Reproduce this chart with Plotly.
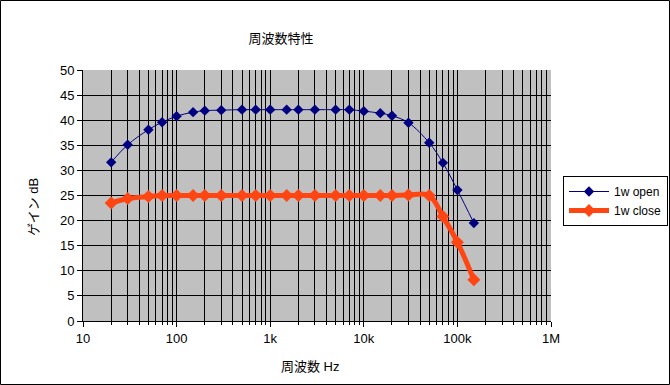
import plotly.graph_objects as go

freqs = [20, 30, 50, 70, 100, 150, 200, 300, 500, 700, 1000, 1500, 2000, 3000,
         5000, 7000, 10000, 15000, 20000, 30000, 50000, 70000, 100000, 150000]
gain_open = [31.6, 35.1, 38.1, 39.6, 40.8, 41.6, 41.9, 42.0, 42.1, 42.1, 42.1, 42.1,
             42.1, 42.1, 42.1, 42.1, 41.8, 41.4, 40.9, 39.5, 35.5, 31.5, 26.1, 19.5]
gain_close = [23.5, 24.4, 24.8, 25.0, 25.0, 25.0, 25.0, 25.0, 25.0, 25.0, 25.0, 25.0,
              25.0, 25.0, 25.0, 25.0, 25.0, 25.0, 25.0, 25.1, 25.0, 20.8, 15.7, 8.2]

x_tickvals = [10, 100, 1000, 10000, 100000, 1000000]
x_ticktext = ["10", "100", "1k", "10k", "100k", "1M"]
x_minor = [m * 10 ** e for e in range(1, 6) for m in range(2, 10)]
y_tickvals = list(range(0, 55, 5))

FONT = "Liberation Sans, Arial, Noto Sans CJK JP, sans-serif"

W, H = 670, 385
L, R, T, B = 83, 119, 70, 64
pw, ph = W - L - R, H - T - B

fig = go.Figure()
fig.add_trace(go.Scatter(
    x=freqs, y=gain_open, name="1w open", mode="lines+markers",
    line=dict(color="#000080", width=1, shape="spline"),
    marker=dict(symbol="diamond", size=8, color="#000080"),
))
fig.add_trace(go.Scatter(
    x=freqs, y=gain_close, name="1w close", mode="lines+markers",
    line=dict(color="#FF4512", width=5, shape="spline"),
    marker=dict(symbol="diamond", size=10, color="#FF4512"),
))

fig.update_layout(
    width=W, height=H,
    margin=dict(l=L, r=R, t=T, b=B, autoexpand=False),
    paper_bgcolor="white", plot_bgcolor="#C0C0C0",
    font=dict(family=FONT, size=12, color="black"),
    title=dict(text="周波数特性", x=281 / W, xanchor="center",
               y=1 - 38 / H, yanchor="middle", font=dict(size=13, family=FONT)),
    legend=dict(x=(668 - L) / pw, y=(H - B - 176) / ph,
                xanchor="right", yanchor="top",
                bgcolor="white", bordercolor="black", borderwidth=1,
                font=dict(size=12, family=FONT), tracegroupgap=0,
                itemwidth=40),
    showlegend=True,
)

fig.update_xaxes(
    type="log", range=[1, 6],
    tickvals=x_tickvals, ticktext=x_ticktext,
    showgrid=True, gridcolor="black", gridwidth=1,
    ticks="outside", ticklen=5, tickcolor="black",
    showline=True, linecolor="black", linewidth=1, mirror=False,
    tickfont=dict(size=13), zeroline=False,
    minor=dict(tickvals=x_minor, showgrid=True, gridcolor="black", gridwidth=1,
               ticks="outside", ticklen=3, tickcolor="black"),
)
fig.update_yaxes(
    range=[0, 50], tickvals=y_tickvals,
    showgrid=True, gridcolor="black", gridwidth=1,
    ticks="outside", ticklen=5, tickcolor="black",
    showline=True, linecolor="black", linewidth=1,
    tickfont=dict(size=13), zeroline=False,
)

fig.add_annotation(text="ゲイン dB", xref="paper", yref="paper",
                   x=(33 - L) / pw, y=(H - B - 207) / ph, showarrow=False,
                   textangle=-90, font=dict(size=13, family=FONT),
                   xanchor="center", yanchor="middle")
fig.add_annotation(text="周波数 Hz", xref="paper", yref="paper",
                   x=(310 - L) / pw, y=(H - B - 366) / ph, showarrow=False,
                   font=dict(size=13, family=FONT),
                   xanchor="center", yanchor="middle")

fig.add_shape(type="rect", xref="paper", yref="paper",
              x0=(0.5 - L) / pw, x1=(W - 0.5 - L) / pw,
              y0=(H - B - (H - 0.5)) / ph, y1=(H - B - 0.5) / ph,
              line=dict(color="black", width=1), fillcolor="rgba(0,0,0,0)", layer="above")

fig.write_html("out.html", config={"displayModeBar": False},
               post_script="document.body.style.margin='0px';document.body.style.padding='0px';")
